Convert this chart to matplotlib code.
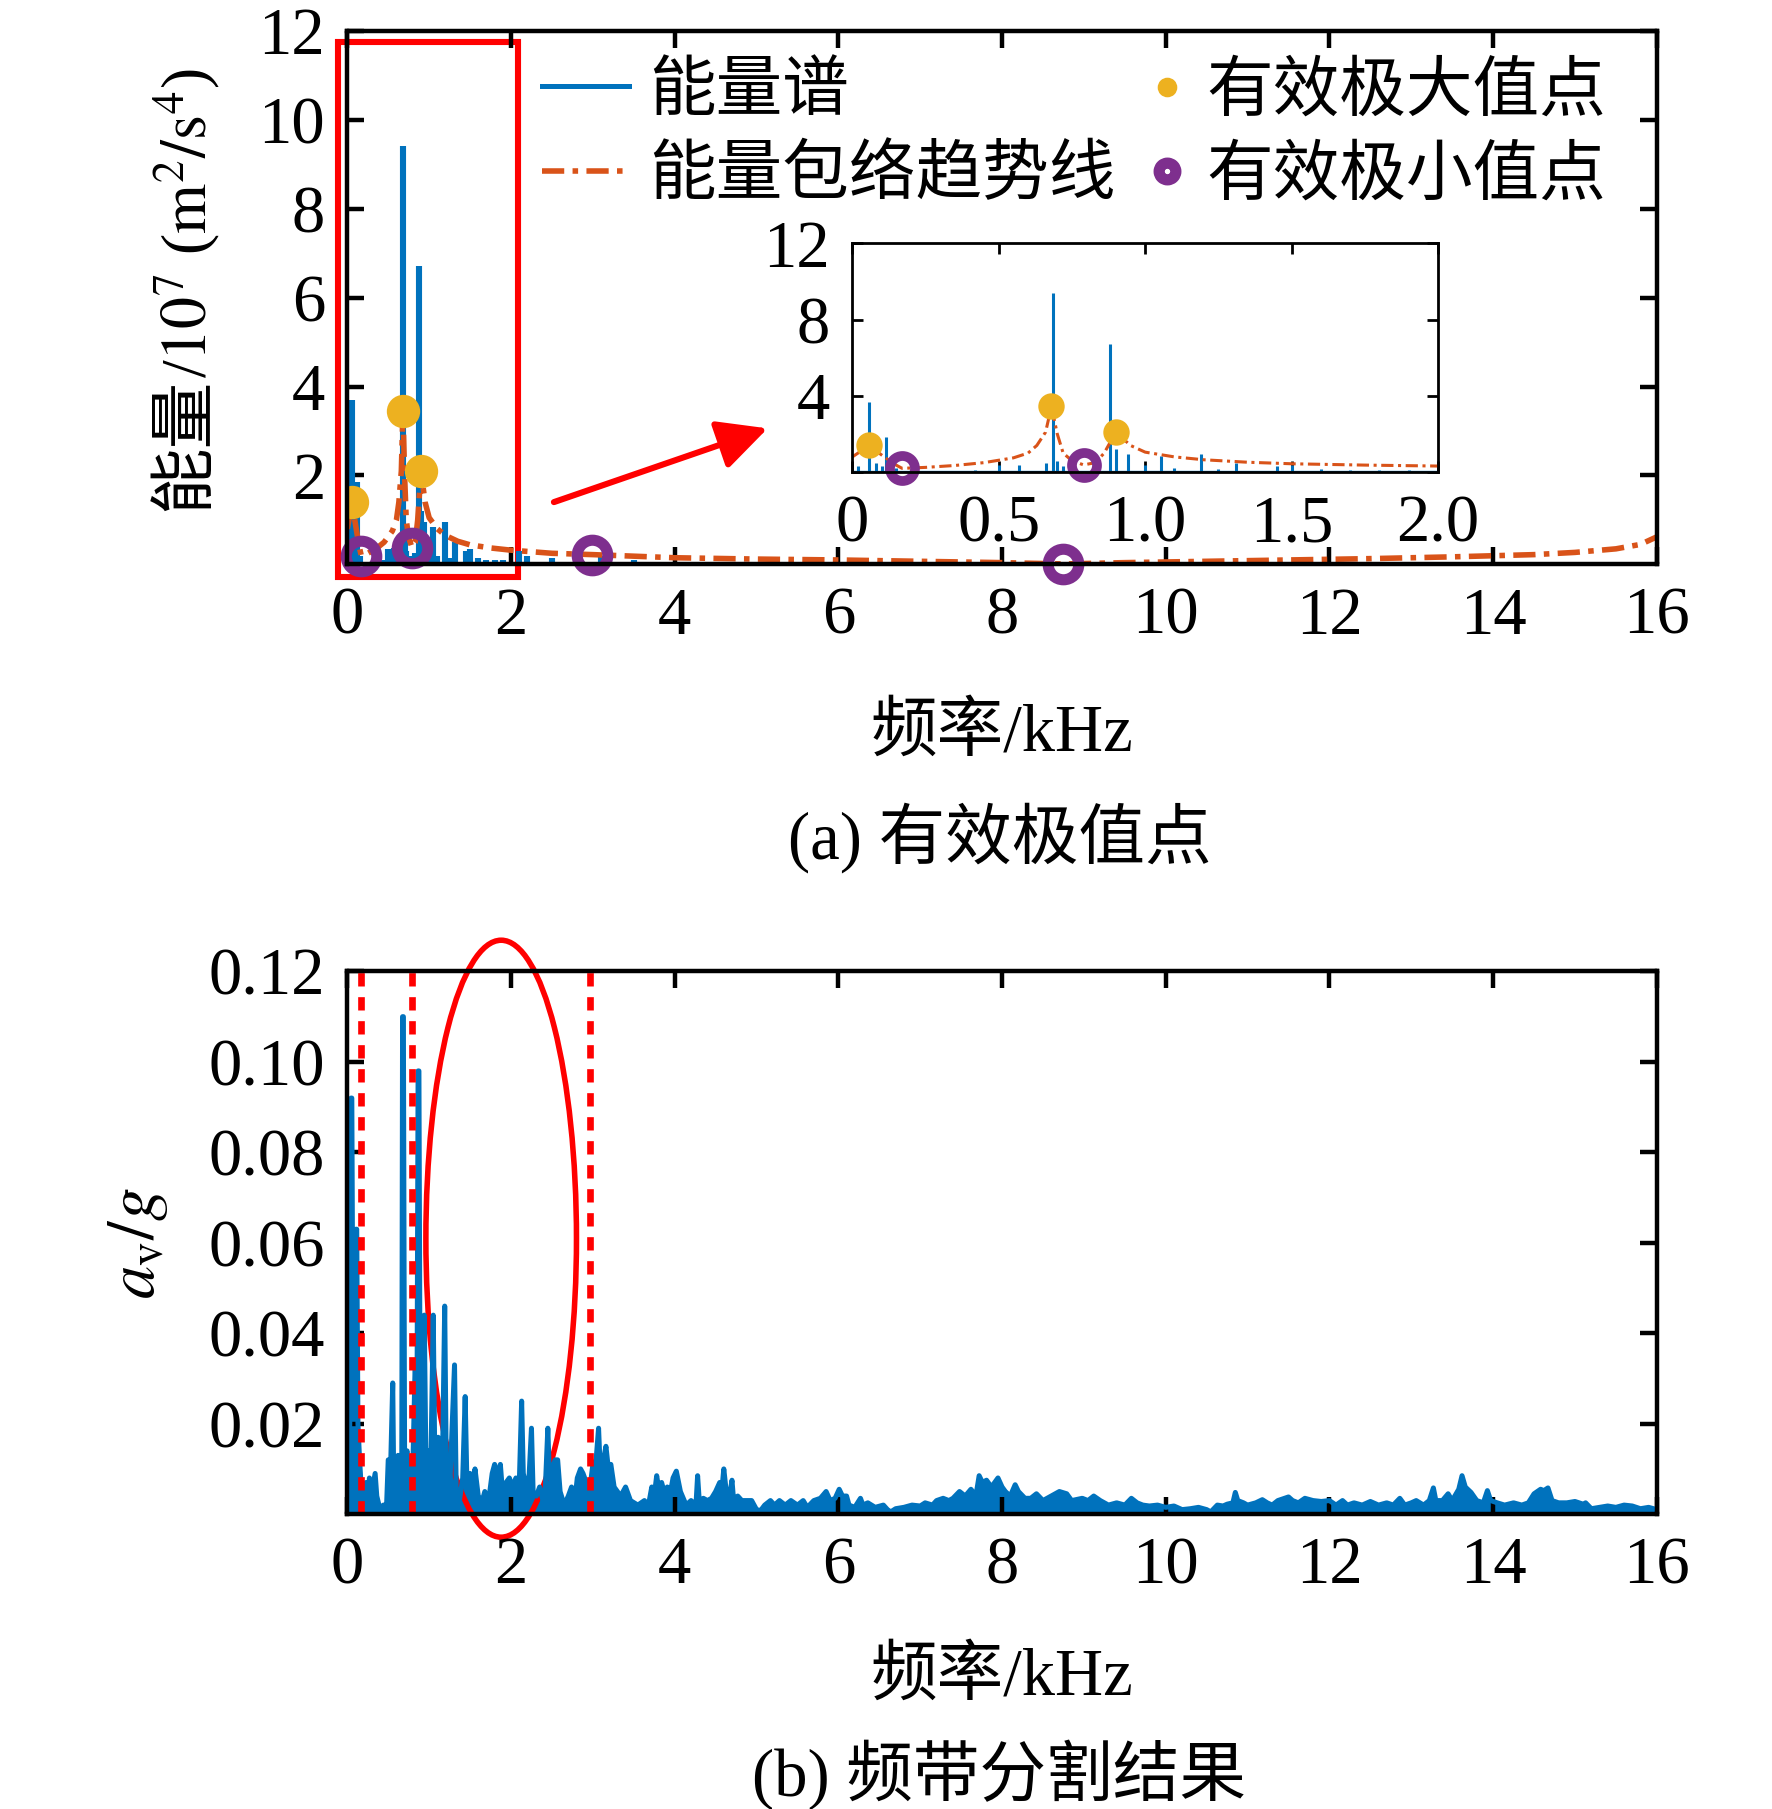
import numpy as np
import matplotlib.pyplot as plt
from matplotlib.patches import Rectangle, Ellipse

plt.rcParams['font.family'] = ['Liberation Serif', 'Noto Sans CJK SC']
plt.rcParams['mathtext.fontset'] = 'stix'
plt.rcParams['font.size'] = 24

BLUE = '#0072BD'
ORANGE = '#D95319'
YELLOW = '#EDB120'
PURPLE = '#7E2F8E'

# (a) energy spectrum spikes, kHz / 1e7
spec_f = [0.02, 0.058, 0.08, 0.1, 0.116, 0.15, 0.42, 0.5, 0.57, 0.66, 0.685, 0.7, 0.72, 0.76, 0.83,
          0.88, 0.9, 0.94, 1.0, 1.053, 1.1, 1.19, 1.25, 1.31, 1.45, 1.5, 1.6, 1.7, 1.8, 1.9,
          2.1, 2.2, 2.5, 2.8, 3.1, 3.5, 4.2, 5.0, 6.3, 7.5, 9.0, 11.0, 13.5]
spec_e = [0.3, 3.7, 0.5, 0.3, 1.85, 0.2, 0.1, 0.35, 0.38, 0.5, 9.4, 0.6, 0.3, 0.2, 0.25,
          6.7, 1.2, 0.95, 0.35, 0.85, 0.2, 0.95, 0.15, 0.5, 0.3, 0.35, 0.15, 0.1, 0.1, 0.1,
          0.3, 0.2, 0.15, 0.1, 0.2, 0.1, 0.06, 0.05, 0.04, 0.04, 0.03, 0.03, 0.03]

# energy envelope trend line
env_f = [0, 0.058, 0.1, 0.14, 0.17, 0.25, 0.35, 0.45, 0.55, 0.6, 0.63, 0.66, 0.68, 0.7, 0.72,
         0.75, 0.79, 0.83, 0.86, 0.9, 0.95, 1.0, 1.1, 1.2, 1.35, 1.5, 1.75, 2.0, 2.5, 3.0,
         4, 5, 6, 7, 8, 8.75, 9.5, 10.5, 11.5, 12.5, 13.5, 14.5, 15, 15.5, 15.8, 16]
env_e = [0.8, 1.4, 0.9, 0.45, 0.2, 0.25, 0.35, 0.5, 0.75, 1.0, 1.4, 2.1, 3.45, 2.0, 1.0,
         0.6, 0.38, 0.5, 1.0, 2.1, 1.4, 1.05, 0.8, 0.65, 0.52, 0.44, 0.37, 0.32, 0.25, 0.22,
         0.15, 0.12, 0.1, 0.07, 0.04, 0.01, 0.04, 0.07, 0.1, 0.13, 0.17, 0.22, 0.27, 0.35, 0.45, 0.62]

max_f = [0.058, 0.68, 0.9]
max_e = [1.4, 3.45, 2.1]
min_f = [0.17, 0.79, 2.99, 8.75]
min_e = [0.2, 0.38, 0.22, 0.0]

# (b) acceleration spectrum a_v/g outline
acc_f = [0.0, 0.01, 0.03, 0.045, 0.055, 0.07, 0.09, 0.105, 0.115, 0.13, 0.15, 0.17, 0.2, 0.23, 0.26,
         0.27, 0.29, 0.31, 0.34, 0.36, 0.4, 0.44, 0.48, 0.5, 0.53, 0.555, 0.565, 0.6, 0.62, 0.64,
         0.665, 0.675, 0.685, 0.7, 0.73, 0.76, 0.8, 0.83, 0.85, 0.865, 0.875, 0.89, 0.92, 0.94, 0.96,
         0.99, 1.02, 1.05, 1.07, 1.11, 1.14, 1.16, 1.19, 1.21, 1.25, 1.31, 1.33, 1.37, 1.41, 1.44,
         1.46, 1.5, 1.53, 1.56, 1.6, 1.65, 1.68, 1.72, 1.77, 1.8, 1.84, 1.87, 1.9, 1.94, 1.98,
         2.02, 2.06, 2.1, 2.13, 2.15, 2.19, 2.22, 2.25, 2.27, 2.31, 2.35, 2.39, 2.42, 2.45, 2.47,
         2.5, 2.54, 2.57, 2.6, 2.65, 2.7, 2.74, 2.78, 2.81, 2.85, 2.88, 2.92, 2.96, 3.0, 3.04,
         3.07, 3.09, 3.13, 3.16, 3.19, 3.22, 3.26, 3.3, 3.34, 3.4, 3.46, 3.55, 3.63, 3.68, 3.72,
         3.75, 3.78, 3.81, 3.84, 3.87, 3.91, 3.94, 3.98, 4.02, 4.07, 4.14, 4.2, 4.26, 4.28, 4.3,
         4.35, 4.4, 4.45, 4.5, 4.55, 4.58, 4.6, 4.63, 4.67, 4.7, 4.72, 4.77, 4.82, 4.88, 4.94,
         5.0, 5.05, 5.1, 5.17, 5.22, 5.28, 5.35, 5.42, 5.5, 5.57, 5.62, 5.7, 5.78, 5.85, 5.9,
         5.96, 6.01, 6.05, 6.1, 6.13, 6.2, 6.27, 6.3, 6.36, 6.45, 6.55, 6.6, 6.64, 6.7, 6.8,
         6.9, 7.0, 7.06, 7.15, 7.2, 7.28, 7.35, 7.4, 7.48, 7.55, 7.62, 7.68, 7.72, 7.76, 7.81,
         7.87, 7.95, 8.0, 8.04, 8.1, 8.16, 8.2, 8.28, 8.35, 8.42, 8.5, 8.6, 8.7, 8.79, 8.85,
         8.98, 9.05, 9.12, 9.2, 9.3, 9.4, 9.5, 9.58, 9.65, 9.72, 9.8, 9.9, 10.0, 10.1, 10.2,
         10.3, 10.4, 10.5, 10.55, 10.63, 10.7, 10.75, 10.82, 10.85, 10.88, 10.95, 11.0, 11.1, 11.18, 11.24,
         11.3, 11.37, 11.45, 11.5, 11.55, 11.62, 11.7, 11.8, 11.9, 12.0, 12.08, 12.16, 12.22, 12.3, 12.4,
         12.5, 12.6, 12.7, 12.78, 12.86, 12.92, 13.0, 13.06, 13.15, 13.22, 13.27, 13.3, 13.38, 13.45, 13.5,
         13.58, 13.62, 13.66, 13.73, 13.8, 13.88, 13.93, 13.97, 14.05, 14.14, 14.25, 14.35, 14.43, 14.5, 14.58,
         14.62, 14.67, 14.72, 14.8, 14.9, 15.0, 15.1, 15.13, 15.2, 15.3, 15.4, 15.5, 15.6, 15.7, 15.8,
         15.9, 16.0]
acc_a = [0.0, 0.003, 0.02, 0.092, 0.092, 0.03, 0.05, 0.063, 0.063, 0.02, 0.012, 0.006, 0.004, 0.007, 0.005,
         0.008, 0.004, 0.006, 0.009, 0.004, 0.001, 0.002, 0.002, 0.012, 0.011, 0.029, 0.011, 0.010, 0.013, 0.006,
         0.006, 0.110, 0.110, 0.012, 0.014, 0.005, 0.010, 0.034, 0.015, 0.098, 0.098, 0.020, 0.015, 0.044, 0.012,
         0.014, 0.010, 0.044, 0.010, 0.017, 0.010, 0.008, 0.046, 0.008, 0.005, 0.033, 0.006, 0.003, 0.008, 0.026,
         0.008, 0.009, 0.006, 0.010, 0.004, 0.003, 0.005, 0.002, 0.009, 0.011, 0.008, 0.011, 0.004, 0.007, 0.008,
         0.006, 0.008, 0.006, 0.025, 0.009, 0.006, 0.008, 0.019, 0.005, 0.004, 0.006, 0.003, 0.006, 0.019, 0.008,
         0.010, 0.012, 0.012, 0.005, 0.002, 0.004, 0.006, 0.003, 0.008, 0.010, 0.009, 0.007, 0.005, 0.011, 0.012,
         0.019, 0.010, 0.012, 0.015, 0.010, 0.011, 0.006, 0.005, 0.004, 0.006, 0.003, 0.002, 0.003, 0.002, 0.006,
         0.004, 0.0085, 0.005, 0.007, 0.005, 0.006, 0.004, 0.008, 0.0095, 0.005, 0.002, 0.003, 0.002, 0.0085, 0.003,
         0.0035, 0.003, 0.0035, 0.005, 0.007, 0.006, 0.010, 0.005, 0.004, 0.0075, 0.003, 0.004, 0.003, 0.003, 0.003,
         0.001, 0.0008, 0.002, 0.003, 0.002, 0.003, 0.002, 0.003, 0.002, 0.003, 0.0015, 0.003, 0.0035, 0.005, 0.003,
         0.0035, 0.0055, 0.004, 0.004, 0.002, 0.0015, 0.0035, 0.002, 0.0025, 0.0015, 0.002, 0.001, 0.0005, 0.0012, 0.0015,
         0.002, 0.0018, 0.0025, 0.002, 0.003, 0.0035, 0.003, 0.0035, 0.005, 0.004, 0.0055, 0.004, 0.0085, 0.007, 0.0075,
         0.006, 0.008, 0.006, 0.005, 0.004, 0.0065, 0.005, 0.0035, 0.0035, 0.0045, 0.003, 0.004, 0.005, 0.0045, 0.003,
         0.0035, 0.003, 0.004, 0.003, 0.002, 0.0025, 0.002, 0.0035, 0.0025, 0.002, 0.0018, 0.002, 0.0015, 0.0018, 0.001,
         0.0012, 0.0015, 0.001, 0.0005, 0.002, 0.0018, 0.0022, 0.0025, 0.0048, 0.003, 0.0025, 0.002, 0.0025, 0.0032, 0.0025,
         0.002, 0.003, 0.0035, 0.0038, 0.003, 0.0025, 0.0035, 0.003, 0.0028, 0.003, 0.002, 0.003, 0.002, 0.0025, 0.002,
         0.0028, 0.002, 0.0025, 0.002, 0.0035, 0.002, 0.0025, 0.003, 0.002, 0.003, 0.0058, 0.003, 0.003, 0.0045, 0.003,
         0.0055, 0.0085, 0.006, 0.0048, 0.003, 0.0025, 0.0052, 0.003, 0.0025, 0.002, 0.0025, 0.002, 0.0025, 0.0045, 0.0055,
         0.0052, 0.0058, 0.003, 0.0025, 0.0025, 0.0028, 0.0022, 0.0025, 0.0012, 0.0015, 0.0018, 0.0015, 0.002, 0.0018, 0.0012,
         0.0015, 0.001]

split_f = [0.17, 0.79, 2.96]

fig = plt.figure(figsize=(8.86, 9.045), dpi=200)


def style_axes(ax, lw=1.6, tl=6):
    for s in ax.spines.values():
        s.set_linewidth(lw)
    ax.tick_params(direction='in', top=True, right=True, length=tl, width=lw, pad=8)


# ---- (a) ----
ax1 = fig.add_axes([0.196, 0.688, 0.739, 0.295])
l1, = ax1.plot([0, 16], [0, 0], color=BLUE, lw=1.8, label='能量谱')
ax1.vlines(spec_f, 0, spec_e, color=BLUE, lw=2.2)
l2, = ax1.plot(env_f, env_e, color=ORANGE, lw=2.0, ls=(0, (4, 1.5, 1, 1.5)), label='能量包络趋势线')
l3, = ax1.plot(max_f, max_e, 'o', color=YELLOW, ms=11, ls='none', label='有效极大值点')
l4, = ax1.plot(min_f, min_e, 'o', mfc='none', mec=PURPLE, mew=4, ms=11, ls='none',
               label='有效极小值点', clip_on=False)
ax1.set_xlim(0, 16)
ax1.set_ylim(0, 12)
ax1.set_xticks(np.arange(0, 17, 2))
ax1.set_yticks(np.arange(2, 13, 2))
style_axes(ax1)
ax1.set_xlabel('频率/kHz', labelpad=20)

# y label: CJK part and math part as two chained texts
t_cn = ax1.text(-0.123, 0.10, '能量', rotation=90, ha='center', va='bottom',
                transform=ax1.transAxes)
ax1.annotate('/$10^7$ ($\\mathrm{m}^2/\\mathrm{s}^4$)', xy=(0.5, 1.0), xycoords=t_cn,
             rotation=90, ha='center', va='bottom', fontsize=23, annotation_clip=False)

leg_a = ax1.legend(handles=[l1, l2], frameon=False, loc='upper left',
                   bbox_to_anchor=(0.149, 0.94), borderpad=0, borderaxespad=0,
                   handlelength=1.3, handletextpad=0.3, labelspacing=0.33)
ax1.add_artist(leg_a)
ax1.legend(handles=[l3, l4], frameon=False, loc='upper left',
           bbox_to_anchor=(0.613, 0.94), borderpad=0, borderaxespad=0,
           handlelength=0.5, handletextpad=0.35, labelspacing=0.33, markerscale=0.55)

ax1.add_patch(Rectangle((-0.11, -0.29), 2.19, 12.03, fill=False, ec='red', lw=2.2, clip_on=False))
ax1.annotate('', xy=(5.2, 3.1), xytext=(2.46, 1.36),
             arrowprops=dict(arrowstyle='-|>', color='red', lw=2.2, mutation_scale=38))

# inset
inset_min_f = [f for f in min_f if f <= 2]
inset_min_e = min_e[:len(inset_min_f)]
axi = fig.add_axes([0.481, 0.739, 0.3305, 0.1264])
axi.plot([0, 2], [0, 0], color=BLUE, lw=1.2)
axi.vlines(spec_f, 0, spec_e, color=BLUE, lw=1.1)
axi.plot(env_f, env_e, color=ORANGE, lw=1.1, ls=(0, (4, 1.5, 1, 1.5)))
axi.plot(max_f, max_e, 'o', color=YELLOW, ms=8.5, ls='none')
axi.plot(inset_min_f, inset_min_e, 'o', mfc='none', mec=PURPLE, mew=3.5, ms=9, ls='none', clip_on=False)
axi.set_xlim(0, 2)
axi.set_ylim(0, 12)
axi.set_xticks([0, 0.5, 1.0, 1.5, 2.0])
axi.set_xticklabels(['0', '0.5', '1.0', '1.5', '2.0'])
axi.set_yticks([0, 4, 8, 12])
axi.set_yticklabels(['', '4', '8', '12'])
style_axes(axi, lw=1.0, tl=4)

# ---- (b) ----
ax2 = fig.add_axes([0.196, 0.163, 0.739, 0.3])
ax2.fill_between(acc_f, 0, acc_a, color=BLUE, lw=0)
ax2.plot(acc_f, acc_a, color=BLUE, lw=1.8)
for f in split_f:
    ax2.axvline(f, color='red', lw=2.4, ls=(0, (2, 1.6)))
ax2.add_patch(Ellipse((1.88, 0.0609), 1.84, 0.132, fill=False, ec='red', lw=2.0, clip_on=False))
ax2.set_xlim(0, 16)
ax2.set_ylim(0, 0.12)
ax2.set_xticks(np.arange(0, 17, 2))
ax2.set_yticks([0.02, 0.04, 0.06, 0.08, 0.10, 0.12])
ax2.set_yticklabels(['0.02', '0.04', '0.06', '0.08', '0.10', '0.12'])
style_axes(ax2)
ax2.set_xlabel('频率/kHz', labelpad=18)
ax2.set_ylabel('$a_{\\mathrm{v}}/g$', labelpad=14)

fig.text(0.564, 0.537, '(a) 有效极值点', ha='center', va='center')
fig.text(0.564, 0.019, '(b) 频带分割结果', ha='center', va='center')

fig.savefig('out.png', dpi=200)
